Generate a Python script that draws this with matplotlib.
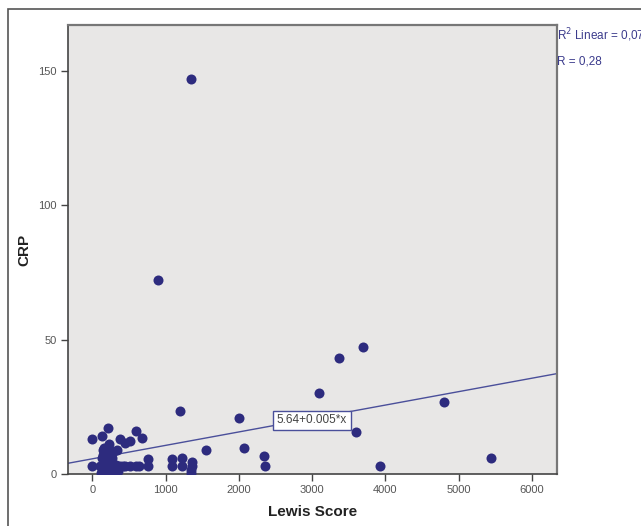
import matplotlib
matplotlib.use("Agg")
import matplotlib.pyplot as plt
from matplotlib.patches import Rectangle
import numpy as np

plt.rcParams['font.family'] = ['Liberation Sans', 'DejaVu Sans']

lewis = [0, 0, 135, 220, 380, 450, 510, 600, 680, 165, 150, 340, 150, 270, 200, 140,
         110, 160, 180, 220, 270, 300, 330, 380, 420, 450, 520, 600, 640, 760, 760,
         150, 200, 250, 300, 350, 180, 240, 290, 230, 260, 120, 320,
         1090, 1230, 1090, 1230, 1365, 1365, 1350, 1350, 1555, 2075, 1200, 2005,
         2350, 2360, 900, 1350,
         3100, 3370, 3700, 3600, 3930, 4800, 5440]
crp = [13, 3, 14, 17, 13, 11.5, 12.3, 16, 13.3, 9.7, 9, 9, 7, 6, 6.5, 6,
       3, 3, 2, 3, 3, 3, 3.5, 3, 3, 3, 3, 3, 3, 5.6, 3,
       1, 0.8, 1, 0.5, 1, 4.5, 5, 8, 11, 8.5, 0.5, 1.5,
       5.6, 6, 3, 3, 4.5, 3, 1.5, 0.4, 8.9, 9.7, 23.4, 20.8,
       6.7, 3, 72, 147,
       30, 43, 47.3, 15.6, 3, 26.8, 6]

intercept = 5.64
slope = 0.005
x_ticks = [0, 1000, 2000, 3000, 4000, 5000, 6000]
y_ticks = [0, 50, 100, 150]

navy = '#2d2b7e'
line_col = '#4a4f9a'

fig = plt.figure(figsize=(6.41, 5.26), dpi=100)
ax = fig.add_axes([68/641, 1-474/526, (557-68)/641, (474-25)/526])
ax.set_facecolor('#e8e7e6')
ax.set_xlim(-330, 6340)
ax.set_ylim(0, 167)

ax.scatter(lewis, crp, s=52, color=navy, zorder=3, clip_on=True, linewidths=0)
xl = np.array(ax.get_xlim())
ax.plot(xl, intercept + slope * xl, color=line_col, lw=1.0, zorder=2)

ax.set_xticks(x_ticks)
ax.set_yticks(y_ticks)
ax.tick_params(axis='both', direction='out', length=5, width=1, color='#444444',
               labelsize=8, labelcolor='#555555', pad=3)
for s in ['left', 'bottom']:
    ax.spines[s].set_color('#444444')
    ax.spines[s].set_linewidth(1.2)
for s in ['top', 'right']:
    ax.spines[s].set_color('#777777')
    ax.spines[s].set_linewidth(1.6)

ax.set_xlabel('Lewis Score', fontsize=11, fontweight='bold', color='#222222', labelpad=7)
ax.set_ylabel('CRP', fontsize=11, fontweight='bold', color='#222222', labelpad=5)

ax.text(0.499, 0.12, '5.64+0.005*x', transform=ax.transAxes,
        fontsize=8.5, color='#444444', ha='center', va='center', zorder=5,
        bbox=dict(boxstyle='square,pad=0.3', facecolor='white', edgecolor=line_col, linewidth=1))

fig.text(557/641, 1-35/526, r'R$^2$ Linear = 0,078', fontsize=8.5, color='#3b3b8c',
         ha='left', va='center')
fig.text(557/641, 1-62/526, 'R = 0,28', fontsize=8.5, color='#3b3b8c',
         ha='left', va='center')

fig.patches.append(Rectangle((8/641, -0.1), 1.2, 1-9/526 + 0.1, transform=fig.transFigure,
                             fill=False, edgecolor='#555555', linewidth=1.2))

fig.savefig('out.png', dpi=100)
